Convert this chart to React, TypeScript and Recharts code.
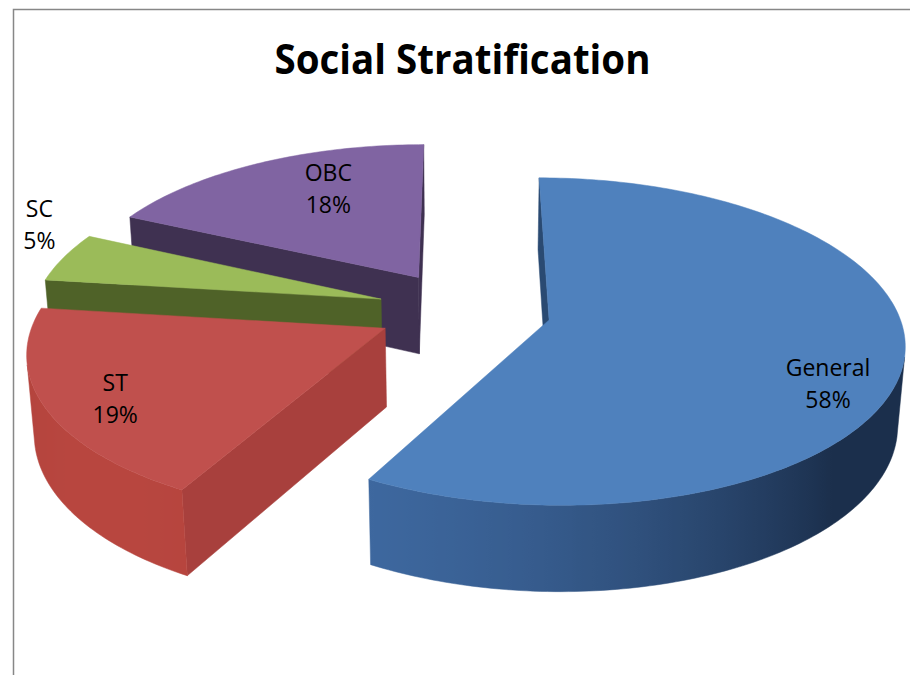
import React from 'react';
import { PieChart, Pie, Customized } from 'recharts';

// ---------- data ----------
const categories = ['General', 'ST', 'SC', 'OBC'];
const shares = [58, 19, 5, 18];
const chartTitle = 'Social Stratification';

// ---------- styles ----------
const COLORS: Record<string, { top: string; side: string; wallLight: string; wallDark: string }> = {
  General: { top: '#4F81BD', side: '#2A4A72', wallLight: '#3F6AA2', wallDark: '#1B2F4C' },
  ST: { top: '#C0504D', side: '#A8403D', wallLight: '#B8463F', wallDark: '#97332F' },
  SC: { top: '#9BBB59', side: '#4F6228', wallLight: '#5E7530', wallDark: '#3F4F1F' },
  OBC: { top: '#8064A2', side: '#3F3151', wallLight: '#4B3B62', wallDark: '#33283F' },
};
const LABEL_NUDGE: Record<string, [number, number]> = {
  General: [-3, 23],
  ST: [-1, 1],
  SC: [12, -35],
  OBC: [40, -3],
};

const W = 910;
const H = 675;
const CX = 464;
const CY = 310;
const K = 2370;
const DIST = 6.8;
const TILT = (27 * Math.PI) / 180;
const DEPTH = 0.255;
const EXPLODE = 0.25;
const SIN_T = Math.sin(TILT);
const COS_T = Math.cos(TILT);
const CAM = { x: 0, y: DIST * SIN_T, z: -DIST * COS_T };
const LIGHT = { x: -0.707, z: -0.707 };

const table = categories
  .map((name, i) => ({ name, value: shares[i] }))
  .reverse();

function project(X: number, Y: number, Z: number): [number, number] {
  const y1 = Y * COS_T + Z * SIN_T;
  const z1 = -Y * SIN_T + Z * COS_T;
  const s = K / (DIST + z1);
  return [CX + X * s, CY - y1 * s];
}

function hexToRgb(h: string) {
  const n = parseInt(h.slice(1), 16);
  return [(n >> 16) & 255, (n >> 8) & 255, n & 255];
}
function mix(a: string, b: string, t: number) {
  const A = hexToRgb(a);
  const B = hexToRgb(b);
  const c = A.map((v, i) => Math.round(v + (B[i] - v) * t));
  return `rgb(${c[0]},${c[1]},${c[2]})`;
}
const pts = (arr: [number, number][]) => arr.map((p) => `${p[0].toFixed(2)},${p[1].toFixed(2)}`).join(' ');

const rad = (d: number) => (d * Math.PI) / 180;

const renderSlice = (props: any) => {
  const { startAngle, endAngle, index } = props;
  const name: string = props.payload?.name ?? props.name;
  const pct = Math.round((props.percent ?? 0) * 100);
  const col = COLORS[name];
  let t1 = 90 - endAngle;
  let t2 = 90 - startAngle;
  while (t1 < 0) {
    t1 += 360;
    t2 += 360;
  }
  const tm = (t1 + t2) / 2;
  const ox = EXPLODE * Math.sin(rad(tm));
  const oz = EXPLODE * Math.cos(rad(tm));
  const rim = (t: number, y: number) => project(ox + Math.sin(rad(t)), y, oz + Math.cos(rad(t)));
  const apexTop = project(ox, 0, oz);
  const apexBot = project(ox, -DEPTH, oz);

  const steps = Math.max(4, Math.ceil((t2 - t1) / 1));
  const samples: number[] = [];
  for (let i = 0; i <= steps; i++) samples.push(t1 + ((t2 - t1) * i) / steps);

  const faces: React.ReactNode[] = [];

  // radial walls
  const startN = { x: -Math.cos(rad(t1)), z: Math.sin(rad(t1)) };
  const endN = { x: Math.cos(rad(t2)), z: -Math.sin(rad(t2)) };
  const faceVis = (n: { x: number; z: number }) => n.x * (CAM.x - ox) + n.z * (CAM.z - oz) > 0;
  if (faceVis(startN)) {
    faces.push(
      <polygon key="sw" points={pts([apexTop, rim(t1, 0), rim(t1, -DEPTH), apexBot])} fill={col.side} stroke={col.side} strokeWidth={0.5} />
    );
  }
  if (faceVis(endN)) {
    faces.push(
      <polygon key="ew" points={pts([apexTop, rim(t2, 0), rim(t2, -DEPTH), apexBot])} fill={col.side} stroke={col.side} strokeWidth={0.5} />
    );
  }

  // outer curved wall
  const vis = (t: number) => {
    const s = Math.sin(rad(t));
    const c = Math.cos(rad(t));
    return -s * ox - c * (DIST * COS_T + oz) - 1 > 0;
  };
  const runs: number[][] = [];
  let cur: number[] = [];
  samples.forEach((t) => {
    if (vis(t)) cur.push(t);
    else {
      if (cur.length > 1) runs.push(cur);
      cur = [];
    }
  });
  if (cur.length > 1) runs.push(cur);
  runs.forEach((run, ri) => {
    const top = run.map((t) => rim(t, 0));
    const bot = run.map((t) => rim(t, -DEPTH)).reverse();
    const xs = top.map((p) => p[0]);
    const xmin = Math.min(...xs);
    const xmax = Math.max(...xs);
    const stops = run
      .map((t, k) => {
        const li = Math.max(0, Math.min(1, Math.sin(rad(t)) * LIGHT.x + Math.cos(rad(t)) * LIGHT.z));
        return { off: xmax > xmin ? (top[k][0] - xmin) / (xmax - xmin) : 0, color: mix(col.wallDark, col.wallLight, li) };
      })
      .sort((a, b) => a.off - b.off);
    const gid = `wall-${index}-${ri}`;
    faces.push(
      <g key={gid}>
        <defs>
          <linearGradient id={gid} gradientUnits="userSpaceOnUse" x1={xmin} y1={0} x2={xmax} y2={0}>
            {stops.map((s, k) => (
              <stop key={k} offset={s.off} stopColor={s.color} />
            ))}
          </linearGradient>
        </defs>
        <polygon points={pts([...top, ...bot])} fill={`url(#${gid})`} stroke={`url(#${gid})`} strokeWidth={0.5} />
      </g>
    );
  });

  // top face
  const topPts: [number, number][] = [apexTop, ...samples.map((t) => rim(t, 0))];
  faces.push(<polygon key="top" points={pts(topPts)} fill={col.top} stroke={col.top} strokeWidth={0.5} />);

  // label
  const lr = pct < 10 ? 1.12 : 0.8;
  const lp = project(ox + lr * Math.sin(rad(tm)), 0, oz + lr * Math.cos(rad(tm)));
  const nudge = LABEL_NUDGE[name] ?? [0, 0];
  const lx = lp[0] + nudge[0];
  const ly = lp[1] + nudge[1];

  return (
    <g key={`slice-${index}`}>
      {faces}
      <text x={lx} y={ly} textAnchor="middle" fontFamily="'Open Sans', 'DejaVu Sans', sans-serif" fontSize={23} fill="#000">
        <tspan x={lx} y={ly}>{name}</tspan>
        <tspan x={lx} y={ly + 32}>{`${pct}%`}</tspan>
      </text>
    </g>
  );
};

const Frame = () => (
  <g>
    <path d={`M13.5 ${H} V9.5 H${W}`} fill="none" stroke="#878787" strokeWidth={1.5} />
    <text
      x={462.5}
      y={74}
      textAnchor="middle"
      fontFamily="'Open Sans', 'DejaVu Sans', sans-serif"
      fontWeight={700}
      fontSize={42}
      textLength={376}
      lengthAdjust="spacingAndGlyphs"
      fill="#000"
    >
      {chartTitle}
    </text>
  </g>
);

export default function App() {
  return (
    <div style={{ position: 'absolute', left: 0, top: 0, width: W, height: H, background: '#fff' }}>
      <PieChart width={W} height={H} margin={{ top: 0, right: 0, bottom: 0, left: 0 }}>
        <Customized component={Frame} />
        <Pie
          data={table}
          dataKey="value"
          nameKey="name"
          cx={CX}
          cy={CY}
          outerRadius={20}
          startAngle={90}
          endAngle={450}
          fill="transparent"
          stroke="none"
          label={renderSlice}
          labelLine={false}
          isAnimationActive={false}
        />
      </PieChart>
    </div>
  );
}
